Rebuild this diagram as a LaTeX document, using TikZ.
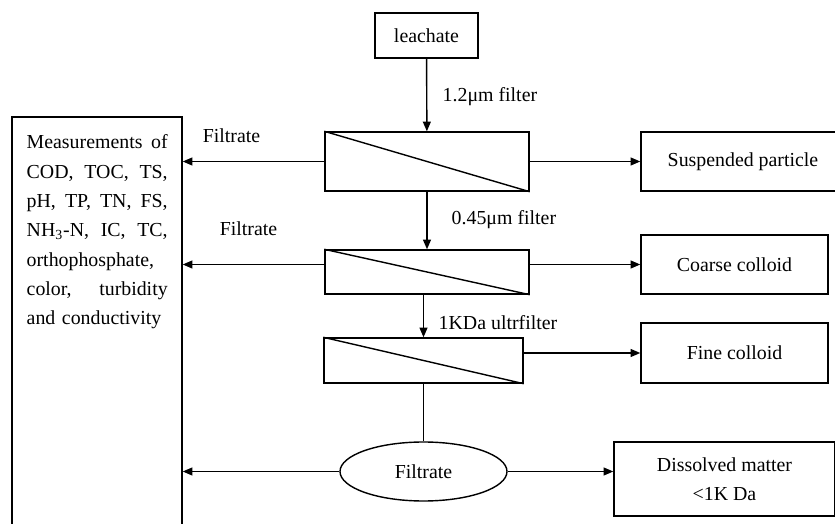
\documentclass[tikz,border=0pt]{standalone}
\usepackage{fontspec}
\setmainfont{Liberation Serif}
\usepackage{tikz}
\usetikzlibrary{positioning,arrows.meta,shapes.geometric,calc}
\newcommand{\jline}[1]{\makebox[2.82cm][l]{#1}}

\begin{document}
\begin{tikzpicture}[
  font=\fontsize{11.3}{16.7}\selectfont,
  line width=0.8pt,
  >={Triangle[length=5.5pt,width=4.5pt]},
  box/.style={draw, inner sep=2pt},
  filt/.style={draw, minimum width=4.08cm, minimum height=0.9cm},
  outbox/.style={draw, align=center, minimum width=3.74cm, minimum height=1.18cm},
  lbl/.style={anchor=west, inner sep=0pt},
]
\useasboundingbox (0,0) rectangle (16.7,-10.48);
% ---------- filter chain ----------
\node[box, minimum width=2.06cm, minimum height=0.9cm] (leach) at (8.53,-0.71) {leachate};
\node[filt, minimum height=1.18cm] (f1) at (8.54,-3.23) {};
\node[filt, minimum height=0.88cm] (f2) at (8.54,-5.44) {};
\node[filt, minimum width=3.98cm] (f3) at (8.47,-7.21) {};
\node[ellipse, draw, minimum width=3.34cm, minimum height=1.18cm] (filt) at (8.47,-9.43) {Filtrate};
\foreach \f in {f1,f2,f3} \draw (\f.north west) -- (\f.south east);
\node[lbl] (l1) at (8.84,-1.94) {1.2μm filter};
\node[lbl] (l2) at (9.02,-4.40) {0.45μm filter};
\node[lbl] (l3) at (8.76,-6.46) {1KDa ultrfilter};
\draw[->] (leach) -- (f1);
\draw[->] (f1) -- (f2);
\draw[->] (f3.north |- f2.south) -- (f3.north);
\draw (f3) -- (filt);
% ---------- fractions ----------
\node[outbox, minimum width=4.08cm] (susp) at (14.86,-3.23) {Suspended particle};
\node[outbox] (coarse) at (14.69,-5.29) {Coarse colloid};
\node[outbox, minimum height=1.2cm] (fine) at (14.69,-7.06) {Fine colloid};
\node[outbox, minimum width=4.42cm, minimum height=1.48cm] (diss) at (14.49,-9.58) {Dissolved matter\\<1K Da};
\draw[->] (f1) -- (susp);
\draw[->] (f2.east |- coarse.west) -- (coarse.west);
\draw[->] (f3.east |- fine.west) -- (fine.west);
\draw[->] (filt.east) -- (diss.west |- filt.east);
% ---------- measurements ----------
\node[draw, minimum width=3.4cm, minimum height=8.86cm] (meas) at (1.94,-6.77) {};
\node[anchor=north west, text width=2.82cm, inner sep=0pt] (mtxt) at (0.52,-2.68) {%
  \jline{Measurements\hfill of}\\
  \jline{COD,\hfill TOC,\hfill TS,}\\
  \jline{pH,\hfill TP,\hfill TN,\hfill FS,}\\
  \jline{NH\textsubscript{3}-N,\hfill IC,\hfill TC,}\\
  orthophosphate,\\
  \jline{color,\hfill turbidity}\\
  and conductivity};
\node (ft1) at (4.63,-2.72) {Filtrate};
\node (ft2) at (4.97,-4.58) {Filtrate};
\draw[->] (f1.west) -- (f1.west -| meas.east);
\draw[->] (f2.west |- coarse.west) -- (meas.east |- coarse.west);
\draw[->] (filt.west) -- (filt.west -| meas.east);
\end{tikzpicture}
\end{document}
